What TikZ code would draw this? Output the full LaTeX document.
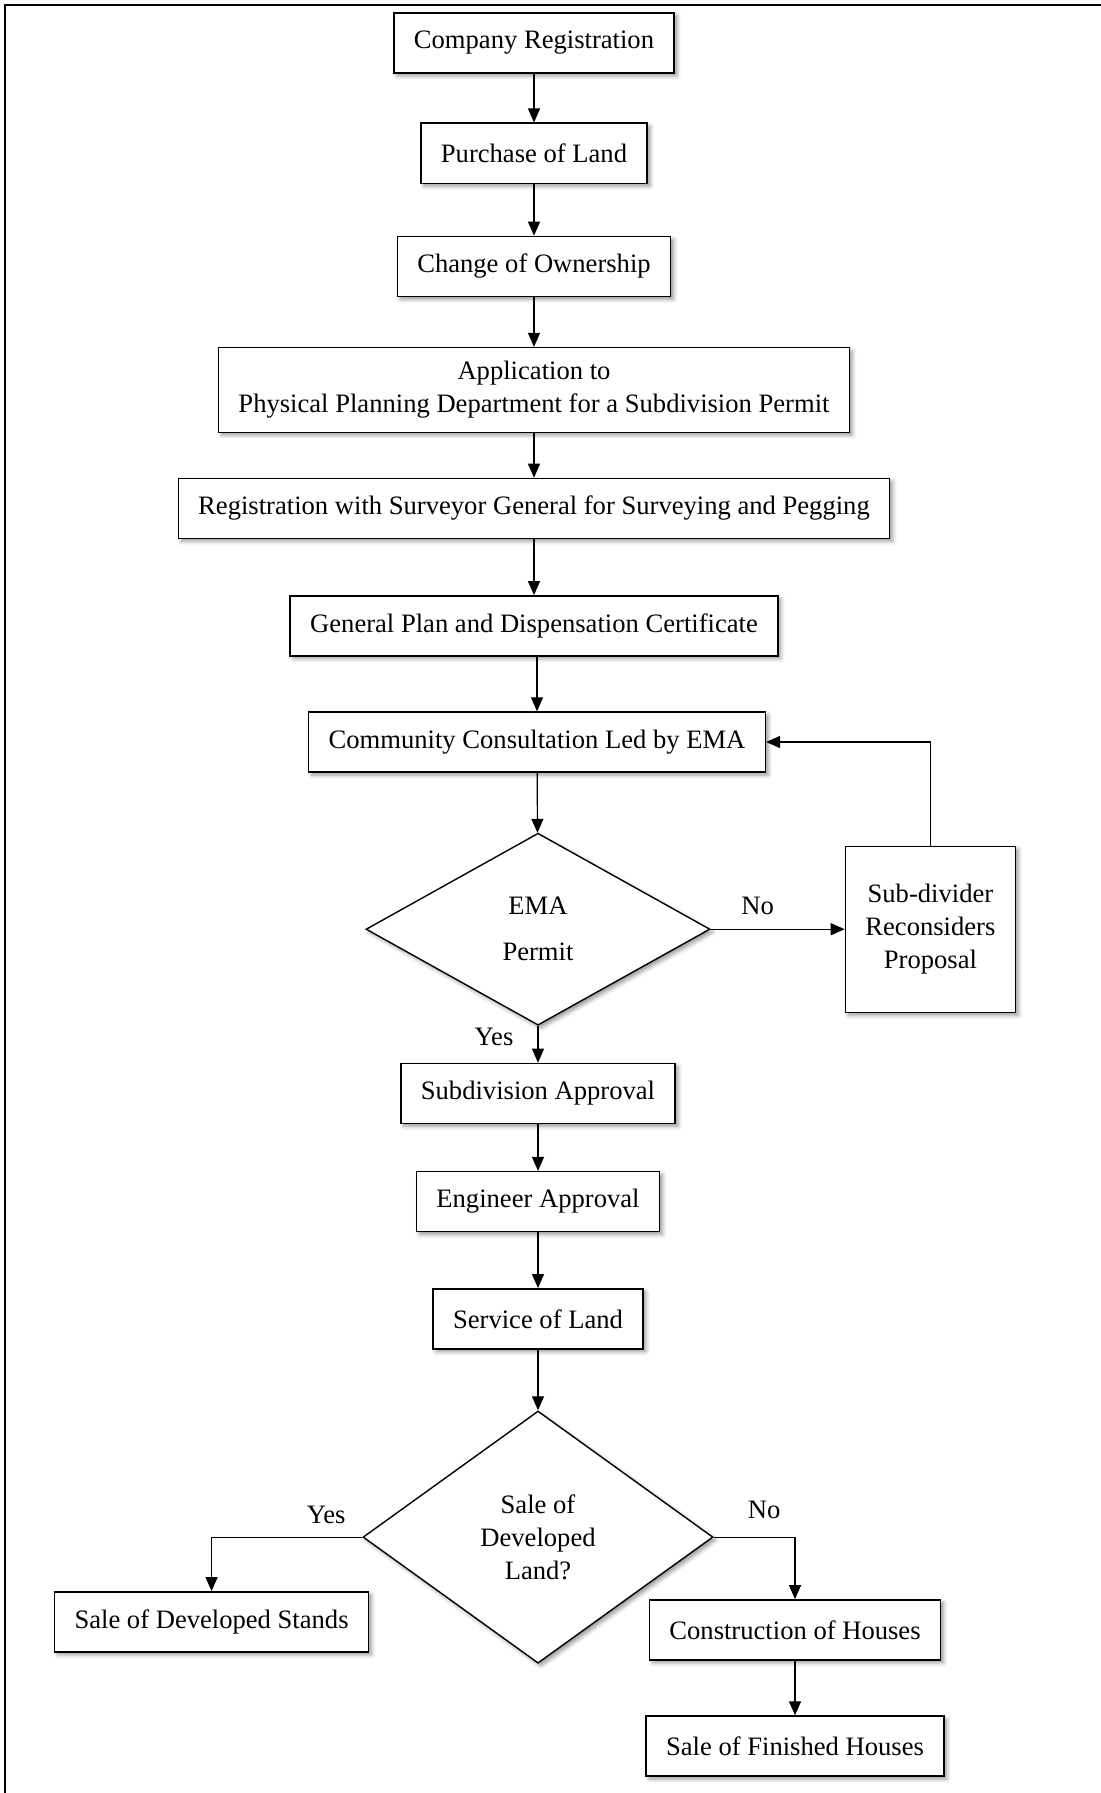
\documentclass[tikz,border=0pt]{standalone}
\usepackage{fontspec}
\setmainfont{Liberation Serif}
\usetikzlibrary{positioning,shapes.geometric,arrows.meta,shadows.blur}

\begin{document}
\begin{tikzpicture}[x=0.5pt,y=-0.5pt,
    font=\fontsize{13.3}{16.5}\selectfont,
    box/.style={draw, line width=0.7pt, fill=white, align=center,
      minimum height=30pt, inner xsep=10pt, inner ysep=6pt,
      blur shadow={shadow xshift=1.5pt, shadow yshift=-1.5pt, shadow blur radius=2pt}},
    decision/.style={diamond, draw, line width=0.7pt, fill=white, align=center, inner sep=0pt,
      blur shadow={shadow xshift=1.5pt, shadow yshift=-1.5pt, shadow blur radius=2pt}},
    arr/.style={-{Triangle[length=7pt,width=6pt]}, line width=0.6pt},
    lbl/.style={inner sep=3pt}]
      \useasboundingbox (0,0) rectangle (1101,1793);
      \draw[line width=1pt] (5,1793) -- (5,5) -- (1101,5);

      % Nodes
      \node[box] (creg) at (534,43) {Company Registration};
      \node[box, below=24.4pt of creg] (pland) {Purchase of Land};
      \node[box, below=25.9pt of pland] (chown) {Change of Ownership};
      \node[box, minimum height=42.3pt, below=24.9pt of chown] (appl) {Application to\\Physical Planning Department for a Subdivision Permit};
      \node[box, below=22.4pt of appl] (sgreg) {Registration with Surveyor General for Surveying and Pegging};
      \node[box, below=28pt of sgreg] (gplan) {General Plan and Dispensation Certificate};
      \node[box, below=27.4pt of gplan, xshift=1.5pt] (ccons) {Community Consultation Led by EMA};
      \node[decision, minimum width=172pt, minimum height=96pt, below=29.9pt of ccons, xshift=0.5pt] (ema) {EMA\\[6.5pt]Permit};
      \node[box, minimum height=83pt, right=67pt of ema] (recon) {Sub-divider\\Reconsiders\\Proposal};
      \node[box, below=18.4pt of ema] (subap) {Subdivision Approval};
      \node[box, below=23.4pt of subap] (engap) {Engineer Approval};
      \node[box, below=27.9pt of engap] (sland) {Service of Land};
      \node[decision, minimum width=175pt, minimum height=126.1pt, below=30.4pt of sland] (sale) {Sale of\\Developed\\Land?};
      \node[box, anchor=north east] (sstand) at ([xshift=3.5pt,yshift=-27pt]sale.west) {Sale of Developed Stands};
      \node[box, anchor=north west] (chouse) at ([xshift=-32.5pt,yshift=-31pt]sale.east) {Construction of Houses};
      \node[box, below=27.4pt of chouse] (shouse) {Sale of Finished Houses};

      % Arrows
      \draw[arr] (creg) -- (pland);
      \draw[arr] (pland) -- (chown);
      \draw[arr] (chown) -- (appl);
      \draw[arr] (appl) -- (sgreg);
      \draw[arr] (sgreg) -- (gplan);
      \draw[arr] (ccons.north |- gplan.south) -- (ccons.north);
      \draw[arr] (ccons) -- (ema);
      \draw[arr] (ema.east) -- node[lbl, pos=0.35, above, yshift=4pt] {No} (recon.west);
      \draw[arr] (recon.north) |- (ccons.east);
      \draw[arr] (ema.south) -- node[lbl, pos=0.3, left, xshift=-9pt] {Yes} (subap.north);
      \draw[arr] (subap) -- (engap);
      \draw[arr] (engap) -- (sland);
      \draw[arr] (sland) -- (sale);
      \draw[arr] (sale.west) -| node[lbl, pos=0.12, above, yshift=3.5pt] {Yes} (sstand.north);
      \draw[arr] (sale.east) -| node[lbl, pos=0.31, above, yshift=6pt] {No} (chouse.north);
      \draw[arr] (chouse) -- (shouse);
  \end{tikzpicture}
\end{document}
